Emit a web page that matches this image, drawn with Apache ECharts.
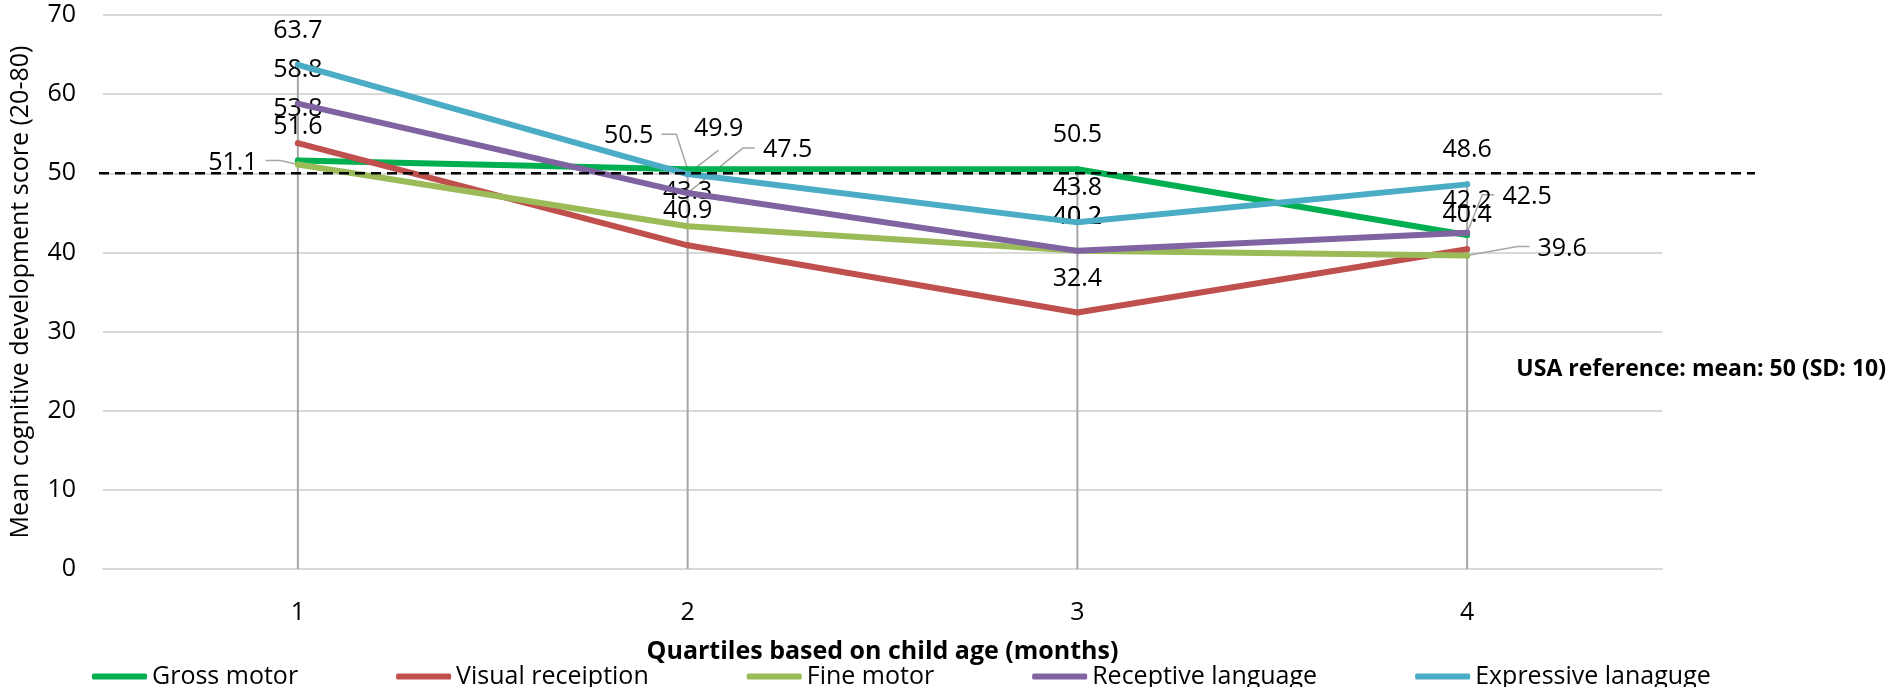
<!DOCTYPE html>
<html>
<head>
<meta charset="utf-8">
<script src="https://cdn.jsdelivr.net/npm/echarts@6/dist/echarts.min.js"></script>
<style>
  html, body { margin: 0; padding: 0; background: #ffffff; }
  #chart { width: 1888px; height: 687px; }
</style>
</head>
<body>
<div id="chart"></div>
<script>
// Quartiles of child age and mean score per developmental domain
const quartiles = ['1', '2', '3', '4'];
const grossMotor = [51.6, 50.5, 50.5, 42.2];
const visualReception = [53.8, 40.9, 32.4, 40.4];
const fineMotor = [51.1, 43.3, 40.2, 39.6];
const receptiveLanguage = [58.8, 47.5, 40.2, 42.5];
const expressiveLanguage = [63.7, 49.9, 43.8, 48.6];
const seriesNames = ['Gross motor', 'Visual receiption', 'Fine motor', 'Receptive language', 'Expressive lanaguge'];
const yMin = 0;
const yMax = 70;
const yStep = 10;
const usaMean = 50;
const usaNote = 'USA reference: mean: 50 (SD: 10)';
const xTitle = 'Quartiles based on child age (months)';
const yTitle = 'Mean cognitive development score (20-80)';

const seriesValues = [grossMotor, visualReception, fineMotor, receptiveLanguage, expressiveLanguage];
const seriesColors = ['#00b050', '#c0504d', '#9bbb59', '#8064a2', '#4bacc6'];

const FONT = '"Open Sans", "Noto Sans", sans-serif';
const FS = 25;

// label centre offsets (px, relative to the point); default sits above
const defaultLabelOffset = [0, -34];
const labelNudges = {
  2: { 0: [-65, -2], 3: [95, -7] },
  0: { 1: [-59, -33] },
  4: { 1: [31, -45] },
  3: { 1: [100, -43], 3: [60, -36] }
};

function labelOffset(si, di) {
  return (labelNudges[si] && labelNudges[si][di]) || defaultLabelOffset;
}

const dropTops = quartiles.map((_, i) => Math.max(...seriesValues.map(s => s[i])));

const chart = echarts.init(document.getElementById('chart'), null, { renderer: 'canvas' });

const gridLeft = 99, gridRight = 226, gridTop = 15, gridBottom = 118;

const lineSeries = seriesNames.map((name, si) => ({
  name: name,
  type: 'line',
  z: 3 + si,
  data: seriesValues[si],
  symbol: 'circle',
  symbolSize: 6,
  showSymbol: true,
  color: seriesColors[si],
  itemStyle: { color: seriesColors[si] },
  lineStyle: { width: 6, color: seriesColors[si], cap: 'round', join: 'round' },
  label: {
    show: true,
    position: 'inside',
    align: 'center',
    verticalAlign: 'middle',
    color: '#000',
    fontFamily: FONT,
    fontSize: FS,
    formatter: p => p.value.toFixed(1)
  },
  labelLayout: function (params) {
    const off = labelOffset(params.seriesIndex - 1, params.dataIndex);
    return { dx: off[0], dy: off[1], hideOverlap: false };
  },
  emphasis: { disabled: true },
  animation: false
}));

const dropSeries = {
  name: 'drop',
  type: 'custom',
  z: 2,
  data: dropTops.map((v, i) => [i, v]),
  renderItem: function (params, api) {
    const top = api.coord([api.value(0), api.value(1)]);
    const bottom = api.coord([api.value(0), yMin]);
    return {
      type: 'line',
      shape: { x1: top[0], y1: top[1], x2: bottom[0], y2: bottom[1] },
      style: { stroke: '#a6a6a6', lineWidth: 2 }
    };
  },
  silent: true,
  animation: false
};

chart.setOption({
  animation: false,
  backgroundColor: '#ffffff',
  textStyle: { fontFamily: FONT },
  grid: { left: gridLeft, right: gridRight, top: gridTop, bottom: gridBottom, containLabel: false },
  legend: {
    data: seriesNames,
    left: 87,
    top: 659,
    itemWidth: 55,
    itemHeight: 6,
    itemGap: 98,
    icon: 'roundRect',
    textStyle: { fontFamily: FONT, fontSize: FS, color: '#000' },
    selectedMode: false
  },
  xAxis: {
    type: 'category',
    data: quartiles,
    boundaryGap: true,
    axisLine: { show: true, lineStyle: { color: '#d9d9d9', width: 2 } },
    axisTick: { show: false },
    axisLabel: { fontFamily: FONT, fontSize: FS, color: '#000', margin: 31 },
    name: xTitle,
    nameLocation: 'middle',
    nameGap: 70,
    nameTextStyle: { fontFamily: FONT, fontSize: 25, fontWeight: 'bold', color: '#000' }
  },
  yAxis: {
    type: 'value',
    min: yMin,
    max: yMax,
    interval: yStep,
    axisLine: { show: false },
    axisTick: { show: false },
    axisLabel: { fontFamily: FONT, fontSize: FS, color: '#000', margin: 27 },
    splitLine: { lineStyle: { color: '#d9d9d9', width: 2 } },
    name: yTitle,
    nameLocation: 'middle',
    nameGap: 70,
    nameTextStyle: { fontFamily: FONT, fontSize: FS, color: '#000' }
  },
  series: [dropSeries].concat(lineSeries)
});

// reference line, note and label leader lines
const ctx = document.createElement('canvas').getContext('2d');
ctx.font = FS + 'px ' + FONT;

const graphics = [];
const refY = chart.convertToPixel({ yAxisIndex: 0 }, usaMean);
graphics.push({
  type: 'line',
  z: 50,
  shape: { x1: gridLeft, y1: refY, x2: 1755, y2: refY },
  style: { stroke: '#000', lineWidth: 2.5, lineDash: [10, 6] },
  silent: true
});
graphics.push({
  type: 'text',
  z: 50,
  right: 2,
  top: 358,
  style: { text: usaNote, font: 'bold 23px ' + FONT, fill: '#000' },
  silent: true
});

Object.keys(labelNudges).forEach(siKey => {
  const si = +siKey;
  Object.keys(labelNudges[si]).forEach(diKey => {
    const di = +diKey;
    const v = seriesValues[si][di];
    const p = chart.convertToPixel({ seriesIndex: si + 1 }, [di, v]);
    const off = labelNudges[si][di];
    const c = [p[0] + off[0], p[1] + off[1]];
    const w = ctx.measureText(v.toFixed(1)).width;
    let pts;
    if (off[0] <= -40) {
      const s = [c[0] + w / 2 + 8, c[1] - 2];
      pts = [s, [s[0] + 15, s[1]], p];
    } else if (off[0] >= 40) {
      const s = [c[0] - w / 2 - 8, c[1] - 2];
      pts = [s, [s[0] - 12, s[1]], p];
    } else {
      pts = [[c[0], c[1] + 21], p];
    }
    graphics.push({
      type: 'polyline',
      z: 1,
      shape: { points: pts },
      style: { stroke: '#a6a6a6', lineWidth: 1.5, fill: null },
      silent: true
    });
  });
});

chart.setOption({ graphic: graphics });
</script>
</body>
</html>
